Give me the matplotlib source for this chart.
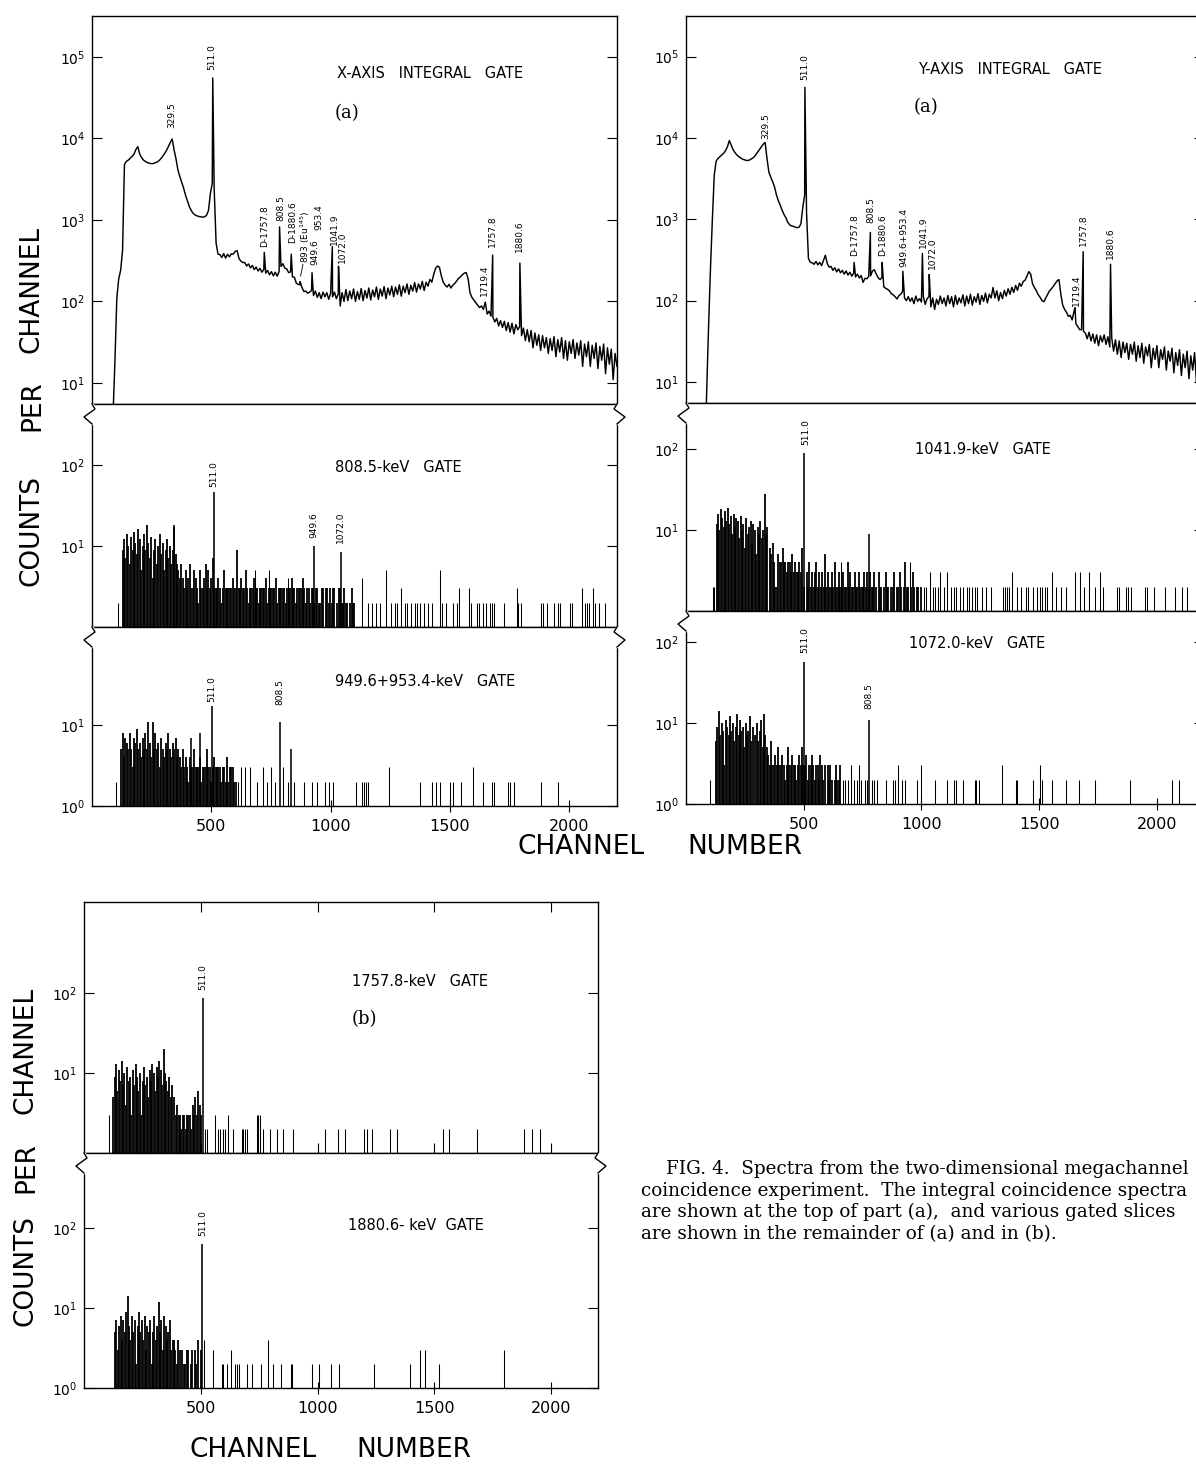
import numpy as np
import matplotlib.pyplot as plt
from matplotlib.lines import Line2D
from matplotlib.ticker import NullLocator

# ---- integral spectra, counts every 8 channels from channel 0 ----
x_integral = [
    1, 1, 1, 1, 1, 1, 1, 1, 1, 1,
    1, 4, 18, 110, 190, 240, 420, 4800, 5200, 5400,
    5700, 6000, 6400, 7300, 7900, 6400, 5800, 5400, 5200, 5050,
    4950, 4900, 4900, 5000, 5100, 5300, 5600, 6000, 6500, 7100,
    7900, 8900, 9800, 7200, 5600, 4100, 3400, 2900, 2450, 2000,
    1700, 1450, 1300, 1200, 1150, 1120, 1100, 1090, 1080, 1090,
    1140, 1300, 2100, 2800, 2400, 520, 380, 375, 345, 385,
    340, 378, 352, 384, 380, 410, 420, 335, 312, 300,
    300, 272, 288, 258, 276, 246, 264, 236, 254, 228,
    246, 222, 240, 212, 232, 206, 228, 204, 232, 268,
    290, 256, 250, 226, 230, 200, 198, 168, 162, 160,
    148, 132, 134, 126, 130, 136, 118, 134, 112, 128,
    108, 130, 114, 128, 106, 126, 114, 130, 108, 124,
    88, 128, 100, 140, 102, 134, 108, 142, 100, 132,
    106, 144, 102, 136, 110, 146, 104, 138, 114, 150,
    106, 142, 116, 152, 108, 146, 120, 154, 114, 150,
    122, 160, 116, 154, 128, 164, 122, 158, 134, 170,
    130, 164, 142, 176, 136, 172, 154, 186, 172, 215,
    255, 272, 262, 205, 172, 158, 150, 162, 146, 158,
    166, 178, 192, 200, 212, 222, 226, 190, 128, 112,
    104, 97, 90, 84, 88, 80, 98, 70, 76, 66,
    64, 56, 62, 50, 58, 48, 57, 44, 55, 42,
    54, 40, 52, 45, 49, 38, 47, 33, 45, 32,
    44, 27, 41, 29, 39, 25, 38, 27, 36, 23,
    35, 25, 37, 21, 34, 24, 36, 20, 33, 19,
    32, 23, 34, 20, 31, 22, 33, 16, 30, 21,
    32, 16, 29, 20, 31, 15, 28, 19, 30, 13,
    27, 17, 26, 11, 23, 16,
]
x_integral_peaks = [(506, 55000), (722, 400), (786, 820), (835, 380), (872, 175),
                    (922, 225), (1007, 470), (1033, 270), (1679, 370), (1793, 295)]

y_integral = [
    1, 1, 1, 1, 1, 1, 1, 1, 1, 1,
    1, 8, 50, 250, 1000, 3500, 5200, 5600, 5900, 6200,
    6500, 7000, 7800, 9300, 8200, 7200, 6600, 6200, 5900, 5700,
    5500, 5400, 5300, 5300, 5400, 5600, 5800, 6200, 6700, 7200,
    7800, 8400, 8800, 5600, 3800, 3300, 2900, 2500, 2000, 1700,
    1500, 1300, 1150, 1050, 920, 860, 830, 820, 800, 790,
    800, 880, 1400, 2000, 1200, 330, 296, 292, 280, 304,
    276, 296, 270, 312, 362, 286, 258, 264, 236, 254,
    226, 246, 220, 236, 212, 232, 206, 224, 200, 218,
    196, 212, 190, 204, 168, 188, 186, 198, 202, 232,
    240, 212, 192, 182, 192, 148, 142, 138, 132, 122,
    118, 112, 105, 115, 120, 130, 108, 100, 112, 98,
    108, 92, 114, 98, 106, 96, 112, 90, 106, 112,
    84, 108, 78, 104, 90, 114, 92, 108, 86, 116,
    92, 112, 84, 116, 90, 108, 94, 118, 86, 114,
    92, 120, 88, 112, 96, 122, 90, 116, 98, 124,
    94, 120, 108, 145, 108, 132, 100, 126, 106, 134,
    114, 140, 120, 146, 126, 154, 134, 164, 150, 172,
    178, 200, 228, 212, 160, 145, 132, 118, 110, 100,
    97, 108, 120, 132, 140, 150, 162, 175, 182, 120,
    88, 78, 72, 64, 66, 58, 74, 52, 48, 44,
    44, 42, 40, 34, 41, 32, 39, 30, 38, 28,
    37, 31, 38, 29, 36, 27, 35, 24, 33, 22,
    32, 20, 31, 23, 30, 19, 29, 22, 31, 18,
    28, 20, 30, 17, 27, 21, 29, 15, 26, 19,
    28, 15, 25, 19, 27, 14, 24, 18, 26, 13,
    23, 16, 25, 12, 22, 15, 24, 11, 21, 14,
    23, 10, 20, 13, 19, 10,
]
y_integral_peaks = [(505, 42000), (714, 295), (783, 690), (833, 295), (921, 230),
                    (1004, 380), (1033, 210), (1652, 82), (1687, 400), (1803, 280)]

# ---- gated slices: dense blocks (every 6 channels), single channels, peaks ----
g808_hi = [9, 12, 7, 14, 10, 6, 13, 9, 15, 11, 8, 16, 12, 5, 10, 14, 9, 18, 11, 7,
           13, 4, 9, 12, 6, 10, 14, 8, 11, 5, 9, 12, 7, 10, 6, 9, 17, 8, 6]
g808_lo = [5, 4, 6, 4, 3, 5, 3, 4, 6, 3, 3, 5, 4, 3, 2, 5, 3, 3, 4, 6, 3, 5, 3, 4, 7,
           3, 3, 3, 4, 3, 2, 3, 5, 3, 3, 3, 3, 3, 4, 3, 3, 9, 3, 3, 4, 3, 3, 5, 3, 2,
           3, 3, 3, 4, 3, 3, 2, 3, 3, 3, 3, 4, 2, 3, 3, 3, 3, 3, 4, 2, 3, 3, 3, 3, 3,
           2, 3, 3, 3, 4, 3, 3, 2, 3, 3, 3, 3, 4, 3, 2, 3,
           3, 2, 3, 3, 2, 3, 3, 2, 2, 3, 3, 1, 3, 3, 2, 3, 2, 3, 3, 1, 2, 3, 3, 2,
           2, 3, 2, 2, 1, 2, 3, 2, 2, 1]
g808_lines = [(108, 2), (1131, 4), (1157, 2), (1174, 2),
              (1191, 2), (1208, 2), (1234, 5), (1252, 2), (1269, 2), (1278, 2), (1295, 3),
              (1312, 2), (1321, 2), (1338, 2), (1355, 2), (1364, 2), (1373, 2), (1390, 2),
              (1407, 2), (1424, 2), (1459, 5), (1468, 2), (1485, 2), (1511, 2), (1528, 2),
              (1537, 3), (1580, 3), (1589, 2), (1615, 2), (1623, 2), (1640, 2), (1649, 2),
              (1666, 2), (1675, 2), (1684, 2), (1727, 2), (1779, 3), (1787, 2), (1796, 2),
              (1882, 2), (1891, 2), (1908, 2), (1934, 2), (1951, 2), (1960, 2), (2003, 2),
              (2012, 2), (2055, 3), (2064, 2), (2073, 2), (2081, 2), (2098, 3), (2107, 2),
              (2124, 2), (2150, 2), (681, 5), (742, 5), (820, 4)]
g808_peaks = [(512, 46), (930, 10), (1043, 8.5), (344, 18)]

g949_hi = [5, 8, 4, 7, 6, 5, 8, 5, 3, 7, 6, 9, 5, 6, 4, 7, 5, 8, 5, 11, 6, 4, 11, 5,
           8, 5, 6, 3, 7, 5, 4, 6, 5, 8, 5, 4, 6, 5, 7, 4, 5, 4]
g949_lo = [3, 5, 3, 4, 3, 2, 4, 3, 3, 5, 3, 3, 3, 4, 2, 3, 3, 3, 5, 3, 3, 2, 3, 4, 3,
           3, 3, 3, 2, 3, 3, 2, 4, 2, 3, 3, 3, 2, 2]
g949_lines = [(99, 2), (612, 2), (625, 3), (643, 3), (664, 3), (690, 2), (716, 3), (733, 2),
              (750, 3), (768, 2), (802, 3), (820, 2), (846, 2), (889, 2), (923, 2), (941, 2),
              (975, 2), (992, 2), (1010, 2), (1105, 2), (1131, 2), (1139, 2), (1148, 2),
              (1157, 2), (1243, 3), (1373, 2), (1424, 2), (1442, 2), (1459, 2), (1502, 2),
              (1511, 2), (1545, 2), (1597, 3), (1640, 2), (1675, 2), (1684, 2), (1744, 2),
              (1753, 2), (1770, 2), (1882, 2), (1951, 2)]
g949_peaks = [(502, 17), (788, 11), (832, 5), (413, 7), (453, 8)]

g1042_hi = [12, 16, 10, 18, 14, 11, 17, 13, 19, 12, 15, 9, 16, 11, 14, 13, 8, 15, 10, 12,
            6, 14, 9, 11, 13, 7, 12, 10, 5, 11, 9, 13, 8, 10, 28, 9, 11]
g1042_lo = [6, 5, 7, 4, 2, 2, 5, 4, 4, 6, 4, 4, 3, 4, 4, 3, 5, 3, 4, 3, 3, 4, 3, 6,
            2, 1, 3, 2, 4, 2, 3, 2, 3, 4, 2, 3, 2, 3, 2, 5, 2, 3, 2, 2, 3, 2, 4, 2, 2,
            3, 2, 2, 3, 2, 2, 4, 2, 3, 2, 2, 3, 2, 2, 3, 2, 2, 2, 3, 2, 3, 2, 3, 2,
            2, 3, 2, 1, 3, 2, 2, 1, 2, 3, 2, 2, 1, 2, 2, 3, 1, 2, 2, 3, 2, 1, 2, 4, 2,
            2, 1, 2, 3, 2, 1, 2, 2, 1, 2]
g1042_lines = [(115, 2), (121, 2), (1012, 2), (1020, 2), (1035, 3), (1050, 2), (1058, 2),
               (1072, 2), (1080, 3), (1095, 2), (1110, 3), (1125, 2), (1140, 2), (1147, 2),
               (1162, 2), (1177, 2), (1192, 2), (1200, 2), (1214, 2), (1229, 2), (1236, 2),
               (1258, 2), (1273, 2), (1296, 2), (1348, 2), (1355, 2), (1363, 2), (1370, 2),
               (1385, 3), (1407, 2), (1422, 2), (1445, 2), (1452, 2), (1474, 2), (1489, 2),
               (1504, 2), (1512, 2), (1526, 2), (1534, 2), (1556, 3), (1571, 2), (1593, 2),
               (1616, 2), (1653, 3), (1675, 3), (1690, 2), (1713, 3), (1735, 2), (1757, 3),
               (1772, 2), (1832, 2), (1839, 2), (1869, 2), (1876, 2), (1891, 2), (1951, 2),
               (1958, 2), (1988, 2), (2033, 2), (2077, 2), (2107, 2), (2129, 2), (660, 4),
               (950, 4)]
g1042_peaks = [(501, 90), (778, 9)]

g1072_hi = [6, 9, 14, 7, 10, 8, 3, 11, 9, 7, 12, 8, 10, 6, 9, 13, 7, 11, 8, 9, 5, 10, 7,
            8, 12, 6, 9, 1, 7, 10, 6, 8, 11, 5, 13, 7]
g1072_lo = [5, 4, 3, 6, 3, 3, 4, 3, 5, 3, 3, 4, 3, 2, 3, 5, 3, 3, 4, 3, 3, 2, 3, 4, 3,
            5, 3, 3, 4, 2, 3, 3, 4, 3, 2, 3, 3, 2, 4, 3, 2, 3, 1, 3, 2, 3, 2, 1, 2, 3,
            2, 2, 3]
g1072_lines = [(100, 2), (665, 2), (675, 2), (690, 2), (700, 3), (712, 2), (725, 2),
               (735, 3), (745, 2), (760, 2), (770, 2), (790, 2), (797, 2), (812, 2),
               (849, 2), (879, 2), (886, 2), (901, 3), (916, 2), (931, 2), (983, 2),
               (998, 3), (1058, 2), (1110, 2), (1139, 2), (1147, 2), (1177, 2), (1229, 2),
               (1233, 2), (1244, 2), (1340, 3), (1400, 2), (1407, 2), (1474, 2), (1504, 3),
               (1512, 2), (1556, 2), (1616, 2), (1668, 2), (1739, 2), (1884, 2), (2062, 2),
               (2092, 2)]
g1072_peaks = [(501, 57), (778, 11)]

g1758_hi = [5, 9, 13, 6, 11, 8, 14, 7, 10, 4, 12, 8, 9, 3, 11, 7, 13, 9, 6, 10, 3, 8,
            12, 7, 9, 5, 11, 8, 13, 10, 6, 12, 9, 14, 11, 7, 20, 10, 8, 6, 9, 5, 7]
g1758_lo = [5, 3, 4, 3, 3, 2, 3, 3, 2, 3, 3, 3, 2, 4, 3, 5, 3, 6, 4, 3]
g1758_lines = [(108, 3), (518, 2), (525, 2), (561, 3), (575, 2), (582, 2), (596, 2),
               (604, 2), (618, 3), (639, 2), (675, 2), (682, 2), (689, 2), (696, 2),
               (742, 3), (746, 3), (753, 3), (767, 2), (796, 2), (825, 2), (850, 2),
               (896, 2), (1032, 2), (1089, 2), (1117, 2), (1200, 2), (1210, 2), (1231, 2),
               (1310, 2), (1339, 2), (1537, 2), (1562, 2), (1682, 2), (1884, 2), (1918, 2),
               (1952, 2)]
g1758_peaks = [(508, 87)]

g1881_hi = [5, 7, 3, 6, 8, 4, 7, 5, 9, 14, 6, 4, 8, 5, 7, 2, 6, 9, 5, 7, 4, 8, 3, 6, 5,
            7, 2, 5, 8, 4, 6, 12, 5, 7, 3, 8, 6, 4, 5, 7, 3, 4]
g1881_lo = [4, 3, 2, 4, 3, 1, 3, 2, 2, 3, 3, 1, 2, 3, 1, 3, 2, 4, 1, 3]
g1881_lines = [(514, 4), (551, 3), (589, 2), (596, 2), (611, 2), (628, 3), (646, 2),
               (656, 2), (665, 2), (699, 2), (721, 2), (758, 2), (789, 4), (811, 2),
               (843, 2), (886, 2), (889, 2), (975, 2), (1007, 2), (1057, 2), (1092, 2),
               (1241, 2), (1396, 2), (1438, 3), (1460, 3), (1520, 2), (1798, 3)]
g1881_peaks = [(506, 64)]

caption = ['FIG. 4.  Spectra from the two-dimensional megachannel',
           'coincidence experiment.  The integral coincidence spectra',
           'are shown at the top of part (a),  and various gated slices',
           'are shown in the remainder of (a) and in (b).']

W, H = 1196, 1464
plt.rcParams['font.family'] = 'DejaVu Sans'
fig = plt.figure(figsize=(W / 100, H / 100), dpi=100)


def px_axes(x0, y0, x1, y1):
    return fig.add_axes([x0 / W, 1 - y1 / H, (x1 - x0) / W, (y1 - y0) / H])


def ftext(x, y, s, **kw):
    return fig.text(x / W, 1 - y / H, s, **kw)


def setup(ax, lo, hi, yt, xlab=False):
    ax.set_yscale('log')
    ax.set_xlim(0, 2200)
    ax.set_ylim(10 ** lo, 10 ** hi)
    ax.set_yticks(yt)
    ax.set_yticklabels(['$10^{%d}$' % round(np.log10(t)) for t in yt])
    ax.yaxis.set_minor_locator(NullLocator())
    ax.tick_params(axis='y', direction='in', length=7.5, width=0.8,
                   left=True, right=True, labelsize=10, pad=5)
    for s in ax.spines.values():
        s.set_linewidth(1.0)
    if xlab:
        ax.set_xticks([500, 1000, 1500, 2000])
        ax.tick_params(axis='x', direction='inout', length=9, width=0.8,
                       labelsize=11.5, pad=5)
    else:
        ax.set_xticks([])


def integral(ax, grid, peaks):
    ch = np.concatenate([np.arange(len(grid)) * 8, [p[0] for p in peaks]])
    v = np.concatenate([grid, [p[1] for p in peaks]])
    o = np.argsort(ch, kind='stable')
    ax.plot(ch[o], v[o], color='k', lw=1.05)


def gated(ax, hi, hi0, lo, lo0, lines, peaks):
    for arr, c0 in ((hi, hi0), (lo, lo0)):
        ch = c0 + 6 * np.arange(len(arr))
        ax.vlines(ch, 1, arr, colors='k', lw=1.3)
    ax.vlines([p[0] for p in lines], 1, [p[1] for p in lines], colors='k', lw=0.75)
    ax.vlines([p[0] for p in peaks], 1, [p[1] for p in peaks], colors='k', lw=1.15)


def plabel(ax, ch, y, s):
    ax.text(ch, y, s, rotation=90, ha='center', va='bottom', fontsize=6.5)


def brk(x, y, d):
    fig.add_artist(Line2D([x / W, x / W], [1 - (y + 1) / H, 1 - (y + 19) / H],
                          color='white', lw=2.5, transform=fig.transFigure))
    xs = [x, x - 3 * d, x + 8 * d, x]
    ys = [y, y + 5, y + 13, y + 20]
    fig.add_artist(Line2D([v / W for v in xs], [1 - v / H for v in ys],
                          color='k', lw=1.0, transform=fig.transFigure))


# left column (a)
la = px_axes(92, 16, 617, 404)
setup(la, 0.742, 5.5, [10, 100, 1e3, 1e4, 1e5])
integral(la, x_integral, x_integral_peaks)
for ch, y, s in [(336, 13500, '329.5'), (504, 69000, '511.0'), (722, 470, 'D-1757.8'),
                 (793, 955, '808.5'), (840, 525, 'D-1880.6'), (894, 295, '893 (Eu$^{145}$)'),
                 (934, 280, '949.6'), (949, 760, '953.4'), (1016, 490, '1041.9'),
                 (1050, 300, '1072.0'), (1646, 115, '1719.4'), (1679, 470, '1757.8'),
                 (1793, 400, '1880.6')]:
    plabel(la, ch, y, s)
la.plot([884, 874], [285, 205], color='k', lw=0.6)

lb = px_axes(92, 404, 617, 627)
setup(lb, 0, 2.75, [10, 100])
gated(lb, g808_hi, 128, g808_lo, 362, g808_lines, g808_peaks)
for ch, y, s in [(512, 53, '511.0'), (930, 12.5, '949.6'), (1043, 11, '1072.0')]:
    plabel(lb, ch, y, s)

lc = px_axes(92, 627, 617, 806)
setup(lc, 0, 2.21, [1, 10], xlab=True)
gated(lc, g949_hi, 122, g949_lo, 374, g949_lines, g949_peaks)
for ch, y, s in [(502, 19, '511.0'), (786, 17.5, '808.5')]:
    plabel(lc, ch, y, s)

# right column (a)
ra = px_axes(686, 16, 1204, 403)
setup(ra, 0.742, 5.5, [10, 100, 1e3, 1e4, 1e5])
integral(ra, y_integral, y_integral_peaks)
for ch, y, s in [(339, 9800, '329.5'), (504, 52000, '511.0'), (718, 355, 'D-1757.8'),
                 (785, 890, '808.5'), (834, 355, 'D-1880.6'), (924, 263, '949.6+953.4'),
                 (1008, 440, '1041.9'), (1045, 245, '1072.0'), (1659, 85, '1719.4'),
                 (1688, 470, '1757.8'), (1801, 325, '1880.6')]:
    plabel(ra, ch, y, s)

rd = px_axes(686, 403, 1204, 611)
setup(rd, 0, 2.57, [10, 100])
gated(rd, g1042_hi, 130, g1042_lo, 356, g1042_lines, g1042_peaks)
plabel(rd, 508, 112, '511.0')

re_ = px_axes(686, 611, 1204, 804)
setup(re_, 0, 2.38, [1, 10, 100], xlab=True)
gated(re_, g1072_hi, 127, g1072_lo, 343, g1072_lines, g1072_peaks)
plabel(re_, 503, 72, '511.0')
plabel(re_, 776, 15, '808.5')

# part (b)
bf = px_axes(84, 902, 598, 1153)
setup(bf, 0, 3.14, [10, 100])
bf.set_xticks([500, 1000, 1500, 2000])
bf.tick_params(axis='x', direction='in', length=7, width=0.8, top=True,
               bottom=True, labelbottom=False)
gated(bf, g1758_hi, 125, g1758_lo, 387, g1758_lines, g1758_peaks)
plabel(bf, 510, 109, '511.0')

bg = px_axes(84, 1153, 598, 1388)
setup(bg, 0, 2.94, [1, 10, 100], xlab=True)
gated(bg, g1881_hi, 133, g1881_lo, 385, g1881_lines, g1881_peaks)
plabel(bg, 508, 79, '511.0')

for x, y, d in [(92, 404, -1), (92, 627, -1), (617, 404, 1), (617, 627, 1),
                (686, 403, -1), (686, 611, -1), (84, 1153, -1), (598, 1153, 1)]:
    brk(x, y, d)

# panel titles
tkw = dict(ha='left', va='center', fontsize=10.5)
ftext(337, 73, 'X-AXIS   INTEGRAL   GATE', **tkw)
ftext(918, 70, 'Y-AXIS   INTEGRAL   GATE', **tkw)
ftext(335, 468, '808.5-keV   GATE', **tkw)
ftext(335, 681, '949.6+953.4-keV   GATE', **tkw)
ftext(915, 449, '1041.9-keV   GATE', **tkw)
ftext(909, 644, '1072.0-keV   GATE', **tkw)
ftext(352, 982, '1757.8-keV   GATE', **tkw)
ftext(348, 1225, '1880.6- keV  GATE', **tkw)
skw = dict(ha='left', va='center', fontsize=13, family='DejaVu Serif')
ftext(335, 113, '(a)', **skw)
ftext(914, 107, '(a)', **skw)
ftext(352, 1019, '(b)', **skw)

# axis words
bkw = dict(ha='center', va='center', fontsize=19)
for y, s in [(289, 'CHANNEL'), (406, 'PER'), (530, 'COUNTS')]:
    ftext(32, y, s, rotation=90, **bkw)
for y, s in [(1050, 'CHANNEL'), (1168, 'PER'), (1270, 'COUNTS')]:
    ftext(26, y, s, rotation=90, **bkw)
ftext(581, 847, 'CHANNEL', **bkw)
ftext(745, 847, 'NUMBER', **bkw)
ftext(253, 1450, 'CHANNEL', **bkw)
ftext(414, 1450, 'NUMBER', **bkw)

# caption, shrunk so that every line stays inside the page
ckw = dict(ha='left', va='center', fontsize=14, family='DejaVu Serif')
cap = [ftext(x, y, s, **ckw) for (x, y), s in
       zip([(666, 1169), (641, 1191), (641, 1212), (641, 1234)], caption)]
fig.canvas.draw()
r = fig.canvas.get_renderer()
scale = 1.0
for t in cap:
    bb = t.get_window_extent(r)
    scale = min(scale, (W - 4 - bb.x0) / bb.width)
for t in cap:
    t.set_fontsize(14 * scale)

fig.savefig('out.png', dpi=100)
